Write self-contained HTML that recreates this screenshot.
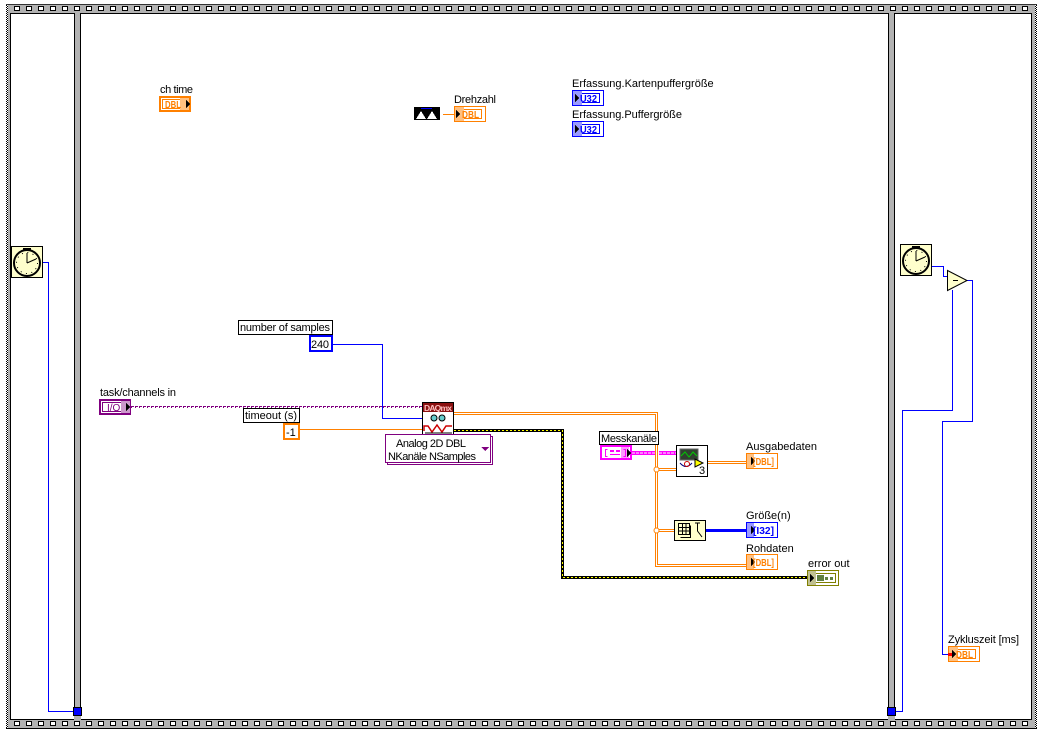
<!DOCTYPE html>
<html><head><meta charset="utf-8"><style>
html,body{margin:0;padding:0;background:#fff}
svg{display:block}
text{font-family:"Liberation Sans",sans-serif;font-size:11px;fill:#000}
.b{font-weight:bold;font-size:10px}
</style></head><body>
<svg width="1049" height="737" viewBox="0 0 1049 737" xmlns="http://www.w3.org/2000/svg" shape-rendering="crispEdges">
<defs>
<pattern id="perfT" x="14" y="6" width="12" height="12" patternUnits="userSpaceOnUse">
<rect x="0.5" y="0.5" width="5" height="4" fill="#fff" stroke="#000"/>
</pattern>
<pattern id="perfB" x="14" y="721" width="12" height="12" patternUnits="userSpaceOnUse">
<rect x="0.5" y="0.5" width="5" height="4" fill="#fff" stroke="#000"/>
</pattern>
<pattern id="chk" x="6" y="5" width="2" height="2" patternUnits="userSpaceOnUse">
<rect width="1" height="1" fill="#000"/><rect x="1" y="1" width="1" height="1" fill="#000"/>
</pattern>
</defs>
<rect x="8" y="4" width="1027" height="725" fill="#b2b2b2"/>
<rect x="6" y="4" width="1031" height="1" fill="#333"/>
<rect x="6" y="728" width="1031" height="1" fill="#000"/>
<rect x="6" y="5" width="2" height="723" fill="url(#chk)"/>
<rect x="1035" y="5" width="2" height="723" fill="url(#chk)"/>
<rect x="14" y="6" width="1018" height="5" fill="url(#perfT)"/>
<rect x="14" y="721" width="1018" height="5" fill="url(#perfB)"/>
<rect x="10.500" y="13.500" width="1021" height="706" fill="#fff" stroke="#000"/>
<rect x="74" y="13" width="7" height="707" fill="#b2b2b2"/>
<rect x="74" y="13" width="1" height="694" fill="#000"/><rect x="80" y="13" width="1" height="694" fill="#000"/>
<rect x="888" y="13" width="7" height="707" fill="#b2b2b2"/>
<rect x="888" y="13" width="1" height="694" fill="#000"/><rect x="894" y="13" width="1" height="694" fill="#000"/>

<!-- blue wires -->
<g fill="none" stroke="#0000ff" stroke-width="1">
<path d="M43 262.500H48.500V711.500H77"/>
<path d="M892 711.500H902.500V410.500H952.500V290"/>
<path d="M932 266.500H943.500V276.500H947"/>
<path d="M967 280.500H972.500V421.500H942.500V654.500H950"/>
<path d="M332 344.500H382.500V418.500H422"/>
</g>
<rect x="73.500" y="707.500" width="8" height="8" fill="#0000ff" stroke="#000"/>
<rect x="887.500" y="707.500" width="8" height="8" fill="#0000ff" stroke="#000"/>

<!-- left clock -->
<g>
<rect x="11.500" y="246.500" width="31" height="31" fill="#ffffcc" stroke="#000"/>
<circle cx="27" cy="263" r="13" fill="#ffffcc" stroke="#000" stroke-width="2" shape-rendering="auto"/>
<circle cx="27" cy="263" r="10.500" fill="none" stroke="#000" stroke-dasharray="1 4.500" shape-rendering="auto"/>
<path d="M27 263V253M27 263L36 259" stroke="#000" fill="none" shape-rendering="auto"/>
<rect x="23" y="248" width="8" height="1.500" fill="#000"/>
</g>
<!-- right clock -->
<g>
<rect x="900.500" y="244.500" width="31" height="31" fill="#ffffcc" stroke="#000"/>
<circle cx="916" cy="261" r="13" fill="#ffffcc" stroke="#000" stroke-width="2" shape-rendering="auto"/>
<circle cx="916" cy="261" r="10.500" fill="none" stroke="#000" stroke-dasharray="1 4.500" shape-rendering="auto"/>
<path d="M916 261V251M916 261L925 257" stroke="#000" fill="none" shape-rendering="auto"/>
<rect x="912" y="246" width="8" height="1.500" fill="#000"/>
</g>
<!-- subtract -->
<polygon points="947.500,270.500 967,280.500 947.500,290.500" fill="#ffffcc" stroke="#000" shape-rendering="auto"/>
<rect x="953" y="280" width="5" height="1" fill="#000"/>

<!-- ch time -->
<text x="160" y="93" textLength="33" lengthAdjust="spacing">ch time</text>
<rect x="160" y="97" width="30" height="14" fill="#fff" stroke="#ff8000" stroke-width="2"/>
<rect x="162.500" y="99.500" width="21" height="9" fill="#fff" stroke="#ff8000"/>
<rect x="180" y="98" width="9" height="12" fill="#ffc080"/>
<text x="165" y="108" class="b" style="fill:#ff8000" textLength="16" lengthAdjust="spacingAndGlyphs">DBL</text>
<polygon points="186,100 186,108 190,104" fill="#000"/>

<!-- Drehzahl -->
<rect x="414" y="107" width="26" height="13" fill="#000"/>
<polygon points="416,119 421,111 426,119" fill="#fff"/>
<polygon points="427,119 432,111 437,119" fill="#fff"/>
<rect x="421" y="108" width="11" height="1" fill="#0000ff"/>
<rect x="443" y="114" width="11" height="1" fill="#ff8000"/>
<text x="454" y="103" textLength="42" lengthAdjust="spacing">Drehzahl</text>
<rect x="454.500" y="106.500" width="31" height="15" fill="#fff" stroke="#ff8000"/>
<rect x="458.500" y="109.500" width="23" height="9" fill="#fff" stroke="#ff8000"/>
<rect x="455" y="107" width="9" height="14" fill="#ffc080"/>
<polygon points="456,110 456,118 460,114" fill="#000"/>
<text x="462" y="118" class="b" style="fill:#ff8000" textLength="17" lengthAdjust="spacingAndGlyphs">DBL</text>

<!-- U32 -->
<text x="572" y="87">Erfassung.Kartenpuffergröße</text>
<rect x="572.500" y="90.500" width="31" height="15" fill="#fff" stroke="#0000ff"/>
<rect x="575.500" y="93.500" width="24" height="9" fill="#fff" stroke="#0000ff"/>
<rect x="573" y="91" width="9" height="14" fill="#9999ff"/>
<polygon points="575,94 575,102 579,98" fill="#000"/>
<text x="580" y="102" class="b" style="fill:#0000ff" textLength="17" lengthAdjust="spacingAndGlyphs">U32</text>
<text x="572" y="118" textLength="110" lengthAdjust="spacing">Erfassung.Puffergröße</text>
<rect x="572.500" y="121.500" width="31" height="15" fill="#fff" stroke="#0000ff"/>
<rect x="575.500" y="124.500" width="24" height="9" fill="#fff" stroke="#0000ff"/>
<rect x="573" y="122" width="9" height="14" fill="#9999ff"/>
<polygon points="575,125 575,133 579,129" fill="#000"/>
<text x="580" y="133" class="b" style="fill:#0000ff" textLength="17" lengthAdjust="spacingAndGlyphs">U32</text>

<!-- number of samples -->
<rect x="238.500" y="320.500" width="94" height="14" fill="#fff" stroke="#000"/>
<text x="240" y="331" textLength="90" lengthAdjust="spacing">number of samples</text>
<rect x="310" y="336" width="22" height="15" fill="#fff" stroke="#0000ff" stroke-width="2"/>
<text x="311" y="348" textLength="18" lengthAdjust="spacing">240</text>

<!-- task wire -->
<path d="M131 406.500H422" stroke="#800080" stroke-width="1" stroke-dasharray="3 1" fill="none"/>
<path d="M131 407.500H422" stroke="#800080" stroke-width="1" stroke-dasharray="1 3" fill="none"/>
<text x="100" y="396" textLength="76" lengthAdjust="spacing">task/channels in</text>
<rect x="100" y="400" width="30" height="14" fill="#fff" stroke="#800080" stroke-width="2"/>
<rect x="102.500" y="402.500" width="25" height="9" fill="#fff" stroke="#800080"/>
<rect x="121" y="401" width="9" height="12" fill="#cc99cc"/>
<text x="107" y="411" style="font-size:10px;fill:#800080">I/O</text>
<polygon points="126,403 126,411 130,407" fill="#000"/>

<!-- timeout -->
<rect x="300" y="429" width="122" height="1" fill="#ff8000"/>
<rect x="243.500" y="408.500" width="56" height="14" fill="#fff" stroke="#000"/>
<text x="245" y="419" textLength="52" lengthAdjust="spacing">timeout (s)</text>
<rect x="284" y="424" width="15" height="15" fill="#fff" stroke="#ff8000" stroke-width="2"/>
<text x="286" y="436">-1</text>

<!-- double orange wires -->
<g fill="none">
<path d="M454 413.500H656.500V565.500H746" stroke="#ff8000" stroke-width="3"/>
<path d="M454 413.500H656.500V565.500H746" stroke="#fff" stroke-width="1"/>
<path d="M656 469.500H676" stroke="#ff8000" stroke-width="3"/>
<path d="M656 469.500H676" stroke="#fff" stroke-width="1"/>
<path d="M656 530.500H674" stroke="#ff8000" stroke-width="3"/>
<path d="M656 530.500H674" stroke="#fff" stroke-width="1"/>
<path d="M708 462.500H746" stroke="#ff8000" stroke-width="3"/>
<path d="M708 462.500H746" stroke="#fff" stroke-width="1"/>
</g>
<circle cx="656.500" cy="469.500" r="2.500" fill="#fff" stroke="#ff8000" shape-rendering="auto"/>
<circle cx="656.500" cy="530.500" r="2.500" fill="#fff" stroke="#ff8000" shape-rendering="auto"/>

<!-- error wire -->
<path d="M454 430.500H562.500V577.500H807" fill="none" stroke="#000" stroke-width="3"/>
<path d="M454 430.500H562.500V577.500H807" fill="none" stroke="#ffff00" stroke-width="1" stroke-dasharray="2 2"/>

<!-- DAQmx -->
<rect x="422.500" y="402.500" width="31" height="32" fill="#fff" stroke="#000"/>
<rect x="423" y="403" width="30" height="9" fill="#8b1010"/>
<text x="424" y="411" style="font-size:8.500px;fill:#ffc0c0;font-weight:bold" textLength="28">DAQmx</text>
<circle cx="434" cy="418" r="3" fill="#66cccc" stroke="#000" shape-rendering="auto"/>
<circle cx="442" cy="418" r="3" fill="#66cccc" stroke="#000" shape-rendering="auto"/>
<path d="M424 431V426H428L432 432L437 425L442 432L446 426H452" fill="none" stroke="#cc0000" stroke-width="1.500" shape-rendering="auto"/>
<path d="M425 433H452" stroke="#000" fill="none"/>

<!-- selector -->
<rect x="387.500" y="436.500" width="105" height="28" fill="#fff" stroke="#800080"/>
<rect x="385.500" y="434.500" width="105" height="28" fill="#fff" stroke="#800080"/>
<text x="396" y="447" textLength="70" lengthAdjust="spacing">Analog 2D DBL</text>
<text x="388" y="460" textLength="88" lengthAdjust="spacing">NKanäle NSamples</text>
<polygon points="481,447 489,447 485,451" fill="#800080"/>

<!-- Messkanäle -->
<path d="M632 453H655M659 453H676" stroke="#ff00ff" stroke-width="4" fill="none"/>
<path d="M632 453H655M659 453H676" stroke="#fff" stroke-width="1" stroke-dasharray="3 1" fill="none"/>
<rect x="599.500" y="431.500" width="59" height="13" fill="#fff" stroke="#000"/>
<text x="601" y="442" textLength="56" lengthAdjust="spacing">Messkanäle</text>
<rect x="601" y="446" width="30" height="13" fill="#fff" stroke="#ff00ff" stroke-width="2"/>
<rect x="621" y="447" width="8" height="11" fill="#ff99ff"/>
<path d="M607.500 449.500H605.500V456.500H607.500M623.500 449.500H625.500V456.500H623.500" fill="none" stroke="#ff00ff"/>
<rect x="610" y="450" width="4" height="2" fill="#ff00ff"/><rect x="616" y="450" width="4" height="2" fill="#ff00ff"/><rect x="610" y="454" width="10" height="1" fill="#ff00ff"/>
<polygon points="627,449 627,457 631,453" fill="#000"/>

<!-- icon 1 -->
<rect x="676.500" y="445.500" width="31" height="31" fill="#fff" stroke="#000"/>
<rect x="680" y="449" width="18" height="11" fill="#304030" stroke="#666"/>
<path d="M681 456L685 452L689 457L693 452L697 456" fill="none" stroke="#00cc00" shape-rendering="auto"/>
<path d="M680 463Q686 470 692 463" fill="none" stroke="#000080" shape-rendering="auto"/>
<circle cx="687" cy="464" r="2.500" fill="none" stroke="#cc0000" shape-rendering="auto"/>
<polygon points="695,459 695,467 703,463" fill="#ffff00" stroke="#000" shape-rendering="auto"/>
<text x="699" y="474">3</text>

<!-- Ausgabedaten -->
<text x="746" y="450">Ausgabedaten</text>
<rect x="746.500" y="453.500" width="31" height="15" fill="#fff" stroke="#ff8000"/>
<rect x="747" y="454" width="7" height="14" fill="#ffc080"/>
<polygon points="751,457 751,465 755,461" fill="#000"/>
<text x="753" y="465" class="b" style="fill:#ff8000" textLength="21" lengthAdjust="spacingAndGlyphs">[DBL]</text>

<!-- icon 2 -->
<rect x="674.500" y="520.500" width="31" height="20" fill="#ffffcc" stroke="#000"/>
<path d="M678.500 523.500H689.500V534.500H678.500ZM682.500 523.500V534.500M686 523.500V534.500M678.500 527.500H689.500M678.500 531H689.500" fill="none" stroke="#000"/>
<path d="M690.500 525.500V537.500H680.500" fill="none" stroke="#000"/>
<path d="M697.500 523V531L702 537M695 523H700" fill="none" stroke="#000" shape-rendering="auto"/>
<rect x="706" y="529" width="40" height="3" fill="#0000ff"/>

<!-- Größe -->
<text x="746" y="519">Größe(n)</text>
<rect x="746.500" y="522.500" width="31" height="15" fill="#fff" stroke="#0000ff"/>
<rect x="747" y="523" width="7" height="14" fill="#9999ff"/>
<polygon points="751,526 751,534 755,530" fill="#000"/>
<text x="753" y="534" class="b" style="fill:#0000ff" textLength="21" lengthAdjust="spacingAndGlyphs">[I32]</text>

<!-- Rohdaten -->
<text x="746" y="552">Rohdaten</text>
<rect x="746.500" y="554.500" width="31" height="15" fill="#fff" stroke="#ff8000"/>
<rect x="747" y="555" width="7" height="14" fill="#ffc080"/>
<polygon points="751,558 751,566 755,562" fill="#000"/>
<text x="753" y="566" class="b" style="fill:#ff8000" textLength="21" lengthAdjust="spacingAndGlyphs">[DBL]</text>

<!-- error out -->
<text x="808" y="567">error out</text>
<rect x="807.500" y="570.500" width="31" height="15" fill="#fff" stroke="#808000"/>
<rect x="810.500" y="573.500" width="25" height="9" fill="#fff" stroke="#808000"/>
<rect x="808" y="571" width="8" height="14" fill="#c0c090"/>
<polygon points="810,574 810,582 814,578" fill="#000"/>
<rect x="817" y="575" width="7" height="6" fill="#608040"/>
<rect x="825" y="577" width="3" height="3" fill="#608040"/><rect x="830" y="577" width="3" height="3" fill="#608040"/>

<!-- Zykluszeit -->
<text x="948" y="643" textLength="71" lengthAdjust="spacing">Zykluszeit [ms]</text>
<rect x="948.500" y="646.500" width="31" height="15" fill="#fff" stroke="#ff8000"/>
<rect x="951.500" y="649.500" width="24" height="9" fill="#fff" stroke="#ff8000"/>
<rect x="949" y="647" width="9" height="14" fill="#ffc080"/>
<rect x="948" y="653" width="4" height="3" fill="#ff0000"/>
<polygon points="952,650 952,658 956,654" fill="#000"/>
<text x="956" y="658" class="b" style="fill:#ff8000" textLength="17" lengthAdjust="spacingAndGlyphs">DBL</text>
</svg>
</body></html>
